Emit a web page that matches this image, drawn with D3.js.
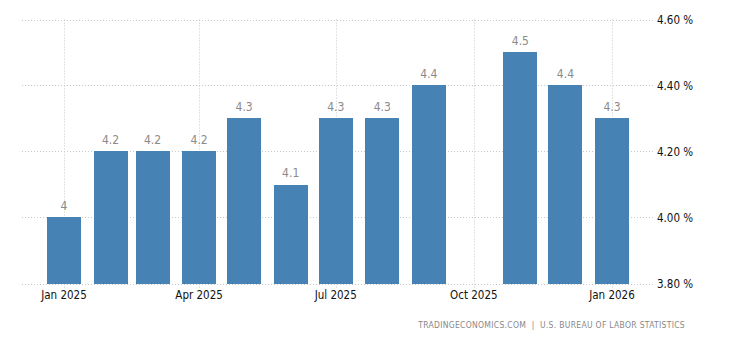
<!DOCTYPE html>
<html><head><meta charset="utf-8">
<script src="https://cdn.jsdelivr.net/npm/d3@7"></script>
<style>body{margin:0;background:#fff}svg{display:block}</style>
</head><body>
<script>
const months = ["2025-01","2025-02","2025-03","2025-04","2025-05","2025-06","2025-07","2025-08","2025-09","2025-11","2025-12","2026-01"];
const values = [4.0,4.2,4.2,4.2,4.3,4.1,4.3,4.3,4.4,4.5,4.4,4.3];
const valueLabels = ["4","4.2","4.2","4.2","4.3","4.1","4.3","4.3","4.4","4.5","4.4","4.3"];
const xTicks = ["2025-01","2025-04","2025-07","2025-10","2026-01"];
const xTickLabels = ["Jan 2025","Apr 2025","Jul 2025","Oct 2025","Jan 2026"];
const yTicks = [3.8,4.0,4.2,4.4,4.6];
const source = "TRADINGECONOMICS.COM  |  U.S. BUREAU OF LABOR STATISTICS";

const W=730,H=340;
const FONT="'DejaVu Sans Condensed', 'DejaVu Sans', sans-serif";
const parse=d3.timeParse("%Y-%m");
const svg=d3.select("body").append("svg").attr("width",W).attr("height",H);
const x=d3.scaleTime().domain([parse("2025-01"),parse("2026-01")]).range([64,612]);
const y=d3.scaleLinear().domain([3.8,4.6]).range([283.5,19.5]);
const left=22,right=653;

// horizontal grid
svg.append("g").selectAll("line").data(yTicks).join("line")
  .attr("x1",left).attr("x2",right)
  .attr("y1",d=>Math.round(y(d))+0.5).attr("y2",d=>Math.round(y(d))+0.5)
  .attr("stroke","#c8c8c8").attr("stroke-dasharray","1,2");
// vertical grid
svg.append("g").selectAll("line").data(xTicks).join("line")
  .attr("x1",d=>Math.round(x(parse(d)))+0.5).attr("x2",d=>Math.round(x(parse(d)))+0.5)
  .attr("y1",19.5).attr("y2",288)
  .attr("stroke","#c8c8c8").attr("stroke-dasharray","1,2");

// bars
const bw=34;
svg.append("g").selectAll("rect").data(values).join("rect")
  .attr("x",(d,i)=>Math.round(x(parse(months[i]))-bw/2))
  .attr("width",bw)
  .attr("y",d=>Math.round(y(d)))
  .attr("height",d=>Math.round(y(3.8))-Math.round(y(d)))
  .attr("fill","#4682b4");

// value labels
svg.append("g").selectAll("text").data(values).join("text")
  .attr("x",(d,i)=>x(parse(months[i])))
  .attr("y",d=>y(d)-8)
  .attr("text-anchor","middle")
  .attr("font-family",FONT).attr("font-size",12)
  .attr("fill","#8a8a8a")
  .text((d,i)=>valueLabels[i]);

// x labels
svg.append("g").selectAll("text").data(xTicks).join("text")
  .attr("x",d=>x(parse(d))).attr("y",299)
  .attr("text-anchor","middle")
  .attr("font-family",FONT).attr("font-size",11.5)
  .attr("fill","#111")
  .text((d,i)=>xTickLabels[i]);

// y labels
svg.append("g").selectAll("text").data(yTicks).join("text")
  .attr("x",657).attr("y",d=>y(d)+4)
  .attr("font-family",FONT).attr("font-size",11.5)
  .attr("fill","#111")
  .text(d=>d3.format(".2f")(d)+" %");

// source
svg.append("text").attr("x",685).attr("y",328).attr("text-anchor","end")
  .attr("font-family",FONT).attr("font-size",8.5)
  .attr("fill","#888").attr("letter-spacing","0.3")
  .attr("xml:space","preserve").style("white-space","pre")
  .text(source);
</script>
</body></html>
